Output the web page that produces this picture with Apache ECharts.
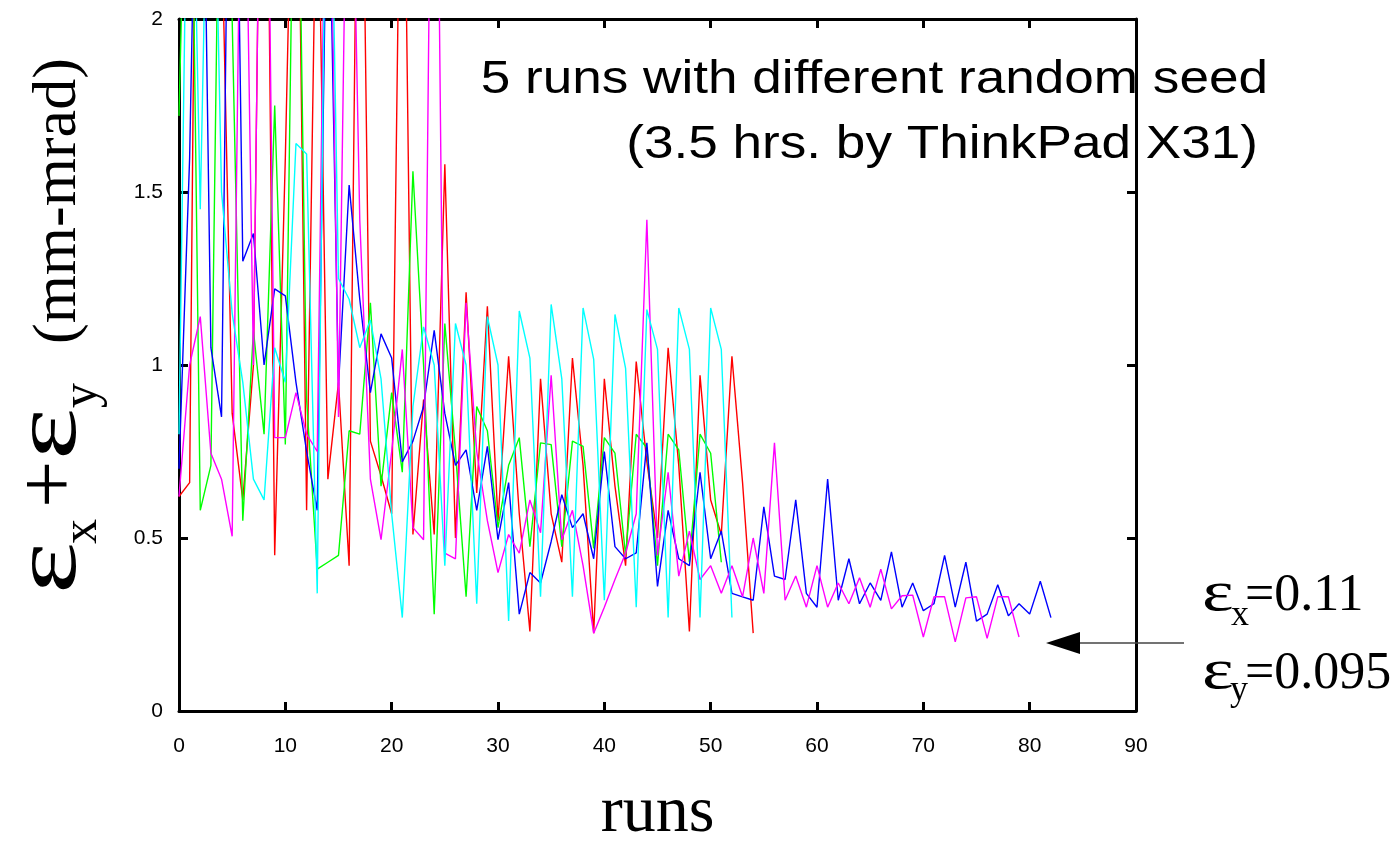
<!DOCTYPE html>
<html>
<head>
<meta charset="utf-8">
<script src="https://cdn.jsdelivr.net/npm/echarts@6/dist/echarts.min.js"></script>
<style>
  html, body { margin: 0; padding: 0; background: #ffffff; }
  #chart { width: 1400px; height: 843px; }
</style>
</head>
<body>
<div id="chart"></div>
<script>
// Emittance sum per optimisation run, one array per random seed (index = run number)
const redRun = [0.62, 0.66, 4.0, 3.0, 2.3, 0.86, 0.61, 1.0, 3.5, 0.45, 1.6, 3.0, 0.58, 2.6, 0.67, 0.95, 0.42, 3.2, 0.78, 0.68,
  0.57, 3.0, 0.51, 0.9, 0.51, 1.58, 0.50, 1.21, 0.63, 1.17, 0.55, 1.025, 0.57, 0.23, 0.96, 0.57, 0.43, 1.02, 0.71, 0.225,
  0.96, 0.65, 0.42, 1.01, 0.72, 0.50, 1.05, 0.71, 0.23, 0.97, 0.61, 0.51, 1.025, 0.66, 0.225];
const greenRun = [1.72, 3.0, 0.58, 0.71, 3.0, 2.0, 0.55, 1.1, 0.8, 1.75, 0.77, 3.0, 0.9, 0.41, 0.43, 0.45, 0.81, 0.80, 1.18, 0.65,
  0.92, 0.69, 1.56, 1.0, 0.28, 1.12, 0.75, 0.33, 0.88, 0.81, 0.53, 0.71, 0.79, 0.475, 0.775, 0.77, 0.475, 0.78, 0.765, 0.47,
  0.79, 0.745, 0.45, 0.80, 0.76, 0.42, 0.80, 0.755, 0.43, 0.80, 0.745, 0.43];
const blueRun = [0.70, 1.6, 3.2, 1.05, 0.85, 3.5, 1.30, 1.38, 1.0, 1.22, 1.20, 0.95, 0.75, 0.58, 2.6, 0.94, 1.52, 1.19, 0.92, 1.09,
  1.02, 0.72, 0.78, 0.88, 1.10, 0.86, 0.71, 0.755, 0.58, 0.765, 0.495, 0.66, 0.28, 0.40, 0.37, 0.49, 0.625, 0.53, 0.57, 0.44,
  0.75, 0.475, 0.44, 0.457, 0.775, 0.36, 0.58, 0.44, 0.42, 0.69, 0.44, 0.52, 0.34, 0.33, 0.32, 0.59, 0.39, 0.38, 0.61, 0.34,
  0.30, 0.67, 0.32, 0.44, 0.31, 0.37, 0.32, 0.46, 0.30, 0.37, 0.29, 0.31, 0.45, 0.30, 0.43, 0.26, 0.28, 0.365, 0.275, 0.31,
  0.28, 0.375, 0.27];
const cyanRun = [0.8, 3.0, 1.45, 3.0, 1.5, 1.15, 0.95, 0.67, 0.61, 1.05, 0.95, 1.64, 1.61, 0.34, 3.0, 1.25, 1.19, 1.05, 1.13, 0.96,
  0.57, 0.27, 0.88, 1.11, 1.0, 0.42, 1.12, 1.0, 0.31, 1.14, 1.0, 0.26, 1.156, 1.02, 0.33, 1.175, 0.96, 0.33, 1.165, 1.016,
  0.32, 1.146, 0.99, 0.30, 1.16, 1.045, 0.27, 1.165, 1.045, 0.27, 1.165, 1.045, 0.27];
const magentaRun = [0.62, 1.0, 1.14, 0.745, 0.67, 0.505, 3.0, 1.0, 3.5, 0.79, 0.79, 0.92, 0.80, 0.75, 3.0, 0.85, 3.0, 1.42, 0.67, 0.495,
  0.75, 1.045, 0.53, 0.495, 3.5, 0.456, 0.44, 1.18, 0.75, 0.55, 0.40, 0.51, 0.456, 0.61, 0.515, 0.97, 0.495, 0.58, 0.42, 0.225,
  0.30, 0.38, 0.456, 0.57, 1.42, 0.45, 0.69, 0.39, 0.52, 0.38, 0.42, 0.34, 0.42, 0.33, 0.50, 0.34, 0.775, 0.32, 0.39, 0.30,
  0.42, 0.30, 0.37, 0.31, 0.385, 0.30, 0.41, 0.295, 0.333, 0.335, 0.214, 0.33, 0.33, 0.20, 0.327, 0.33, 0.21, 0.33, 0.33, 0.214];

// Axis ranges and labels
const xRange = { min: 0, max: 90, step: 10 };
const yRange = { min: 0, max: 2, step: 0.5 };
const xTitle = 'runs';
const noteLine1 = '5 runs with different random seed';
const noteLine2 = '(3.5 hrs. by ThinkPad X31)';
const finalEx = '0.11';
const finalEy = '0.095';

const seriesList = [
  { name: 'seed 1', data: redRun, color: '#ff0000' },
  { name: 'seed 2', data: greenRun, color: '#00ff00' },
  { name: 'seed 3', data: blueRun, color: '#0000ff' },
  { name: 'seed 4', data: magentaRun, color: '#ff00ff' },
  { name: 'seed 5', data: cyanRun, color: '#00ffff' }
];

const serif = 'Liberation Serif';

// distance from the text's middle line down to its alphabetic baseline
const measureCtx = document.createElement('canvas').getContext('2d');
function baselineBelowMiddle(size) {
  measureCtx.font = size + 'px "' + serif + '"';
  measureCtx.textBaseline = 'middle';
  return measureCtx.measureText('x').actualBoundingBoxDescent;
}

// one piece of a formula: text placed with its baseline at (x, base)
function piece(text, x, base, size, scaleX) {
  return {
    type: 'text', x: x, y: base - baselineBelowMiddle(size), scaleX: scaleX || 1,
    style: { text: text, align: 'left', verticalAlign: 'middle', fontFamily: serif, fontSize: size, fill: '#000' }
  };
}

const chart = echarts.init(document.getElementById('chart'), null, { renderer: 'canvas' });

const frameLine = { show: true, onZero: false, lineStyle: { color: '#000', width: 3 } };
const inTick = { show: true, inside: true, length: 9, lineStyle: { color: '#000', width: 3 } };
const tickFont = { fontFamily: 'Liberation Sans', fontSize: 21, color: '#000' };

const option = {
  animation: false,
  backgroundColor: '#ffffff',
  grid: { left: 179, right: 264, top: 19, bottom: 132, containLabel: false, outerBoundsMode: 'none' },
  xAxis: [
    {
      type: 'value', position: 'bottom', min: xRange.min, max: xRange.max, interval: xRange.step,
      axisLine: frameLine, axisTick: inTick, splitLine: { show: false },
      axisLabel: Object.assign({ margin: 25 }, tickFont),
      name: xTitle, nameLocation: 'middle', nameGap: 70,
      nameTextStyle: { fontFamily: serif, fontSize: 66, color: '#000' }
    },
    {
      type: 'value', position: 'top', min: xRange.min, max: xRange.max, interval: xRange.step,
      axisLine: frameLine, axisTick: inTick, splitLine: { show: false }, axisLabel: { show: false }
    }
  ],
  yAxis: [
    {
      type: 'value', position: 'left', min: yRange.min, max: yRange.max, interval: yRange.step,
      axisLine: frameLine, axisTick: inTick, splitLine: { show: false },
      axisLabel: Object.assign({ margin: 16 }, tickFont)
    },
    {
      type: 'value', position: 'right', min: yRange.min, max: yRange.max, interval: yRange.step,
      axisLine: frameLine, axisTick: inTick, splitLine: { show: false }, axisLabel: { show: false }
    }
  ],
  series: seriesList.map(s => ({
    name: s.name,
    type: 'line',
    data: s.data.map((v, i) => [i, v]),
    showSymbol: false,
    symbol: 'none',
    clip: true,
    lineStyle: { color: s.color, width: 1.4 },
    itemStyle: { color: s.color },
    emphasis: { disabled: true }
  })),
  graphic: [
    // vertical axis title, written along the local x direction and turned upright
    {
      type: 'group', x: 75, y: 594, rotation: Math.PI / 2,
      children: [
        piece('ε', 0, 0, 92, 1.35),
        piece('x', 50, 21, 50),
        piece('+', 86, 0, 84),
        piece('ε', 134, 0, 92, 1.35),
        piece('y', 186, 21, 50),
        piece('(mm-mrad)', 250, 0, 62)
      ]
    },
    // run description
    {
      type: 'text', x: 1268, y: 80, scaleX: 1.13,
      style: { text: noteLine1, align: 'right', verticalAlign: 'middle', fontFamily: 'Liberation Sans', fontSize: 47, fill: '#000' }
    },
    {
      type: 'text', x: 1258, y: 145, scaleX: 1.13,
      style: { text: noteLine2, align: 'right', verticalAlign: 'middle', fontFamily: 'Liberation Sans', fontSize: 47, fill: '#000' }
    },
    // final emittance values
    {
      type: 'group', x: 1202, y: 610,
      children: [
        piece('ε', 0, 0, 58, 1.3),
        piece('x', 29, 15, 36),
        piece('=' + finalEx, 43, 0, 52)
      ]
    },
    {
      type: 'group', x: 1202, y: 688,
      children: [
        piece('ε', 0, 0, 58, 1.3),
        piece('y', 28, 12, 36),
        piece('=' + finalEy, 43, 0, 52)
      ]
    },
    // pointer towards the converged value
    {
      type: 'line', z: 10,
      shape: { x1: 1184, y1: 643, x2: 1078, y2: 643 },
      style: { stroke: '#444', lineWidth: 1.5 }
    },
    {
      type: 'polygon', z: 10,
      shape: { points: [[1046, 643], [1080, 632], [1080, 654]] },
      style: { fill: '#000' }
    }
  ]
};

chart.setOption(option);
</script>
</body>
</html>
